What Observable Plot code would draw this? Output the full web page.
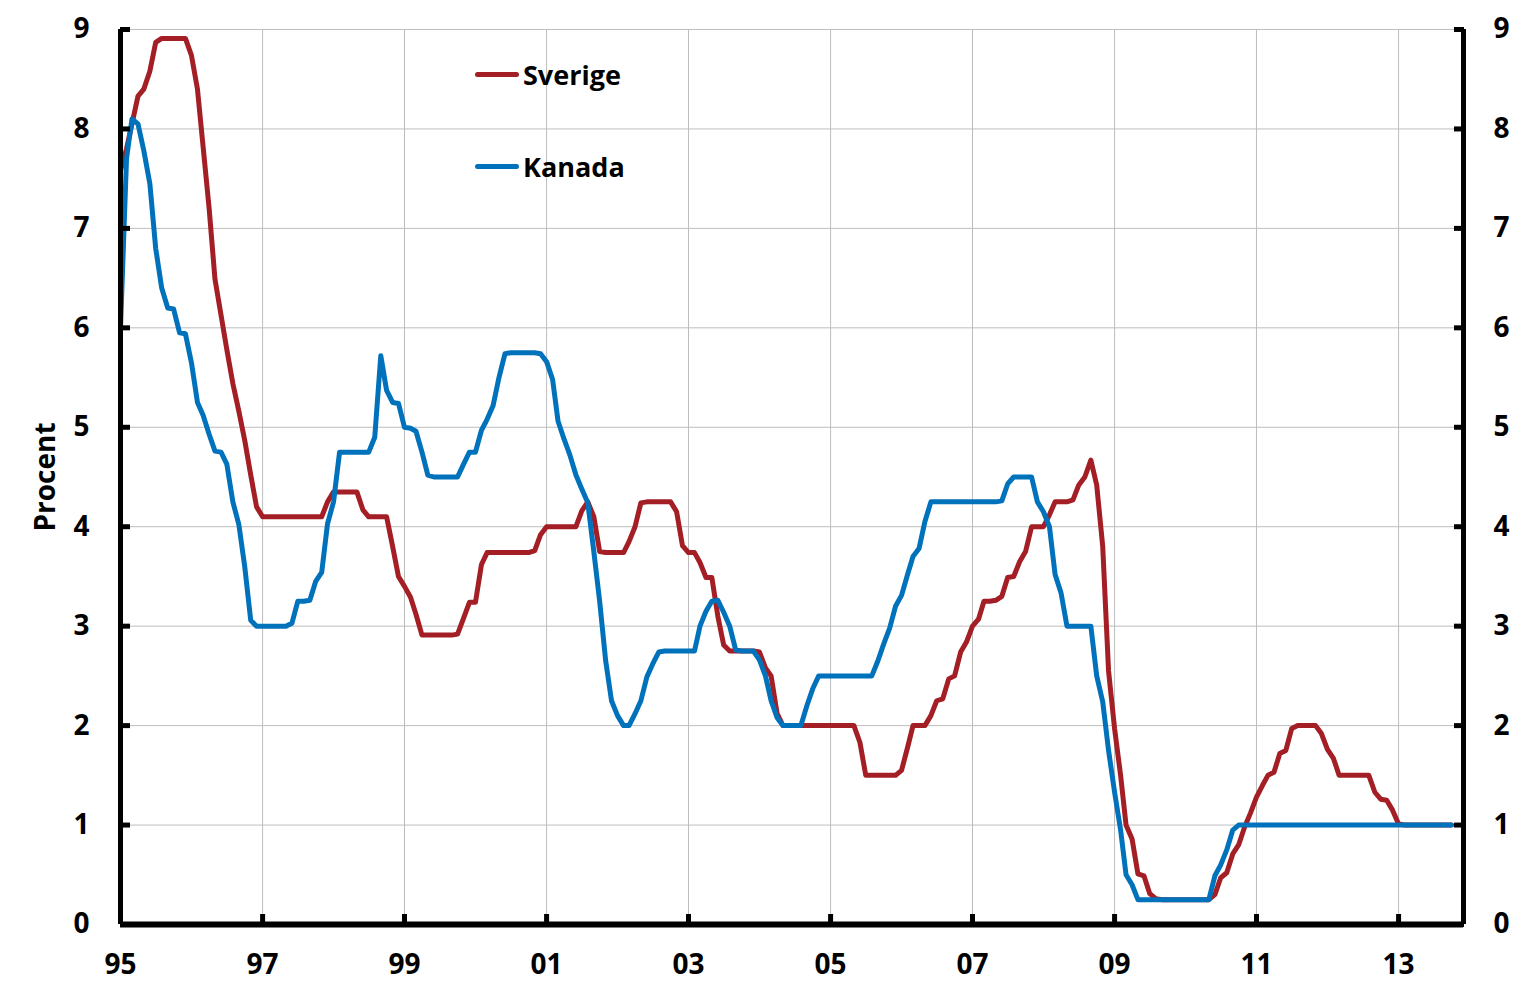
<!DOCTYPE html>
<html>
<head>
<meta charset="utf-8">
<script src="https://cdn.jsdelivr.net/npm/d3@7"></script>
<script src="https://cdn.jsdelivr.net/npm/@observablehq/plot@0.6"></script>
<style>
  html, body { margin: 0; padding: 0; background: #fff; }
  #wrap { position: relative; width: 1527px; height: 998px; font-family: "Open Sans", "Noto Sans", sans-serif; }
  .leg { position: absolute; display: flex; align-items: center; font-weight: 700; font-size: 27px; color: #000; }
  .leg .sw { width: 44px; height: 5px; border-radius: 3px; margin-right: 4px; }
</style>
</head>
<body>
<div id="wrap"></div>
<script>
// Monthly values from January 1995 (index 0) to October 2013
const startYear = 1995;
const sverige = [
  7.58, 7.80, 8.05, 8.33, 8.40, 8.58, 8.87, 8.91, 8.91, 8.91, 8.91, 8.91,
  8.74, 8.40, 7.82, 7.20, 6.49, 6.13, 5.78, 5.44, 5.16, 4.87, 4.52, 4.20,
  4.10, 4.10, 4.10, 4.10, 4.10, 4.10, 4.10, 4.10, 4.10, 4.10, 4.10, 4.25,
  4.35, 4.35, 4.35, 4.35, 4.35, 4.17, 4.10, 4.10, 4.10, 4.10, 3.80, 3.50,
  3.40, 3.29, 3.12, 2.91, 2.91, 2.91, 2.91, 2.91, 2.91, 2.92, 3.08, 3.24,
  3.24, 3.62, 3.74, 3.74, 3.74, 3.74, 3.74, 3.74, 3.74, 3.74, 3.76, 3.92,
  4.00, 4.00, 4.00, 4.00, 4.00, 4.00, 4.16, 4.25, 4.10, 3.75, 3.74, 3.74,
  3.74, 3.74, 3.85, 4.00, 4.24, 4.25, 4.25, 4.25, 4.25, 4.25, 4.15, 3.81,
  3.74, 3.74, 3.64, 3.49, 3.49, 3.10, 2.81, 2.75, 2.75, 2.75, 2.75, 2.75,
  2.74, 2.58, 2.50, 2.12, 2.00, 2.00, 2.00, 2.00, 2.00, 2.00, 2.00, 2.00,
  2.00, 2.00, 2.00, 2.00, 2.00, 1.83, 1.50, 1.50, 1.50, 1.50, 1.50, 1.50,
  1.55, 1.78, 2.00, 2.00, 2.00, 2.10, 2.25, 2.27, 2.47, 2.50, 2.74, 2.84,
  3.00, 3.07, 3.25, 3.25, 3.26, 3.30, 3.49, 3.50, 3.65, 3.75, 4.00, 4.00,
  4.00, 4.12, 4.25, 4.25, 4.25, 4.27, 4.42, 4.50, 4.67, 4.42, 3.80, 2.55,
  1.97, 1.50, 1.00, 0.86, 0.51, 0.49, 0.31, 0.26, 0.25, 0.25, 0.25, 0.25,
  0.25, 0.25, 0.25, 0.25, 0.25, 0.30, 0.47, 0.52, 0.71, 0.80, 0.98, 1.12,
  1.28, 1.40, 1.50, 1.53, 1.72, 1.75, 1.97, 2.00, 2.00, 2.00, 2.00, 1.92,
  1.76, 1.67, 1.50, 1.50, 1.50, 1.50, 1.50, 1.50, 1.33, 1.26, 1.25, 1.15,
  1.01, 1.00, 1.00, 1.00, 1.00, 1.00, 1.00, 1.00, 1.00, 1.00
];
const kanada = [
  6.00, 7.70, 8.10, 8.05, 7.78, 7.45, 6.80, 6.40, 6.20, 6.19, 5.95, 5.94,
  5.65, 5.25, 5.12, 4.93, 4.76, 4.75, 4.63, 4.25, 4.02, 3.60, 3.06, 3.00,
  3.00, 3.00, 3.00, 3.00, 3.00, 3.03, 3.25, 3.25, 3.26, 3.45, 3.54, 4.03,
  4.25, 4.75, 4.75, 4.75, 4.75, 4.75, 4.75, 4.90, 5.72, 5.37, 5.25, 5.24,
  5.00, 4.99, 4.96, 4.75, 4.52, 4.50, 4.50, 4.50, 4.50, 4.50, 4.63, 4.75,
  4.75, 4.97, 5.08, 5.22, 5.50, 5.74, 5.75, 5.75, 5.75, 5.75, 5.75, 5.74,
  5.66, 5.48, 5.06, 4.88, 4.72, 4.52, 4.38, 4.24, 3.75, 3.25, 2.65, 2.25,
  2.10, 2.00, 2.00, 2.12, 2.25, 2.49, 2.62, 2.74, 2.75, 2.75, 2.75, 2.75,
  2.75, 2.75, 3.00, 3.15, 3.25, 3.26, 3.14, 3.00, 2.76, 2.75, 2.75, 2.75,
  2.66, 2.50, 2.25, 2.08, 2.00, 2.00, 2.00, 2.00, 2.20, 2.37, 2.50, 2.50,
  2.50, 2.50, 2.50, 2.50, 2.50, 2.50, 2.50, 2.50, 2.65, 2.82, 2.98, 3.20,
  3.31, 3.52, 3.70, 3.78, 4.05, 4.25, 4.25, 4.25, 4.25, 4.25, 4.25, 4.25,
  4.25, 4.25, 4.25, 4.25, 4.25, 4.26, 4.43, 4.50, 4.50, 4.50, 4.50, 4.25,
  4.15, 4.00, 3.52, 3.33, 3.00, 3.00, 3.00, 3.00, 3.00, 2.50, 2.24, 1.75,
  1.33, 0.95, 0.50, 0.40, 0.25, 0.25, 0.25, 0.25, 0.25, 0.25, 0.25, 0.25,
  0.25, 0.25, 0.25, 0.25, 0.25, 0.49, 0.60, 0.75, 0.95, 1.00, 1.00, 1.00,
  1.00, 1.00, 1.00, 1.00, 1.00, 1.00, 1.00, 1.00, 1.00, 1.00, 1.00, 1.00,
  1.00, 1.00, 1.00, 1.00, 1.00, 1.00, 1.00, 1.00, 1.00, 1.00, 1.00, 1.00,
  1.00, 1.00, 1.00, 1.00, 1.00, 1.00, 1.00, 1.00, 1.00, 1.00
];
const seriesNames = ["Sverige", "Kanada"];
const seriesColors = ["#a31e25", "#0072bb"];
const tickYears = [1995, 1997, 1999, 2001, 2003, 2005, 2007, 2009, 2011, 2013];
const yTicks = [0, 1, 2, 3, 4, 5, 6, 7, 8, 9];
const xDomain = [new Date(Date.UTC(1995, 0, 1)), new Date(Date.UTC(2013, 11, 1))];
const yDomain = [0, 9];
const yLabel = "Procent";

const toRows = (arr, name) => arr.map((v, i) => ({date: new Date(Date.UTC(startYear, i, 1)), value: v, series: name}));
const rowsS = toRows(sverige, seriesNames[0]);
const rowsK = toRows(kanada, seriesNames[1]);
const xTicks = tickYears.map(y => new Date(Date.UTC(y, 0, 1)));

const font = '"Open Sans", "Noto Sans", sans-serif';

const chart = Plot.plot({
  width: 1527,
  height: 998,
  marginLeft: 120,
  marginRight: 64,
  marginTop: 29,
  marginBottom: 74,
  style: {fontFamily: font, fontSize: "28px", fontWeight: 700, color: "#000", background: "#fff"},
  x: {type: "utc", domain: xDomain},
  y: {domain: yDomain},
  marks: [
    Plot.gridX(xTicks, {stroke: "#bdbdbd", strokeOpacity: 1, strokeWidth: 1}),
    Plot.gridY(yTicks, {stroke: "#bdbdbd", strokeOpacity: 1, strokeWidth: 1}),
    Plot.line(rowsS, {x: "date", y: "value", stroke: seriesColors[0], strokeWidth: 5, strokeLinejoin: "round", strokeLinecap: "butt"}),
    Plot.line(rowsK, {x: "date", y: "value", stroke: seriesColors[1], strokeWidth: 5, strokeLinejoin: "round", strokeLinecap: "round"}),
    Plot.ruleX([xDomain[0]], {stroke: "#000", strokeWidth: 5}),
    Plot.ruleX([xDomain[1]], {stroke: "#000", strokeWidth: 5}),
    Plot.ruleY([yDomain[0]], {stroke: "#000", strokeWidth: 6}),
    Plot.axisY(yTicks, {anchor: "left", tickSize: -10, tickPadding: 41, strokeWidth: 5, stroke: "#000", fontSize: 28, fontWeight: 700, label: null, tickFormat: d => String(d)}),
    Plot.axisY(yTicks, {anchor: "right", tickSize: -10, tickPadding: 40, strokeWidth: 5, stroke: "#000", fontSize: 28, fontWeight: 700, label: null, tickFormat: d => String(d)}),
    Plot.axisX(xTicks, {anchor: "bottom", tickSize: -10, tickPadding: 40, strokeWidth: 5, stroke: "#000", fontSize: 28, fontWeight: 700, label: null,
      tickFormat: d => String(d.getUTCFullYear()).slice(2)}),
    Plot.text([yLabel], {frameAnchor: "left", textAnchor: "middle", rotate: -90, dx: -74, fontSize: 28, fontWeight: 700, fill: "#000"})
  ]
});

const wrap = document.getElementById("wrap");
wrap.appendChild(chart);

const legendPos = [{left: 475, top: 74}, {left: 475, top: 166}];
seriesNames.forEach((name, i) => {
  const d = document.createElement("div");
  d.className = "leg";
  d.style.left = legendPos[i].left + "px";
  d.style.top = (legendPos[i].top - 20) + "px";
  d.style.height = "40px";
  const sw = document.createElement("span");
  sw.className = "sw";
  sw.style.background = seriesColors[i];
  const t = document.createElement("span");
  t.textContent = name;
  d.appendChild(sw);
  d.appendChild(t);
  wrap.appendChild(d);
});
</script>
</body>
</html>
